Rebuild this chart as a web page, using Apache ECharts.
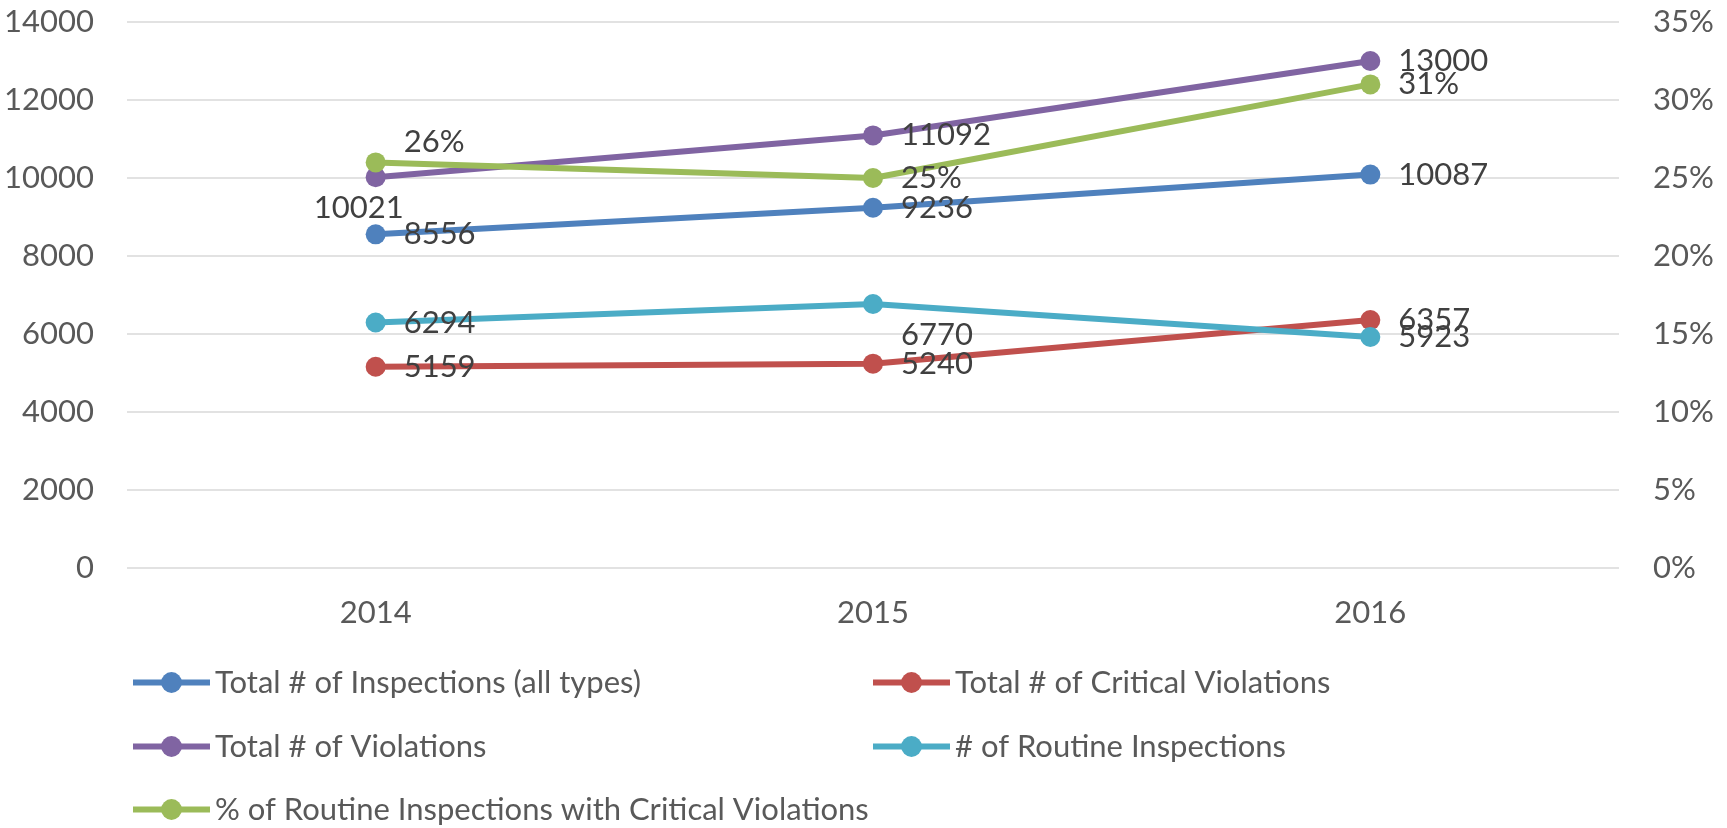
<!DOCTYPE html>
<html>
<head>
<meta charset="utf-8">
<script src="https://cdn.jsdelivr.net/npm/echarts@6/dist/echarts.min.js"></script>
<style>
  html, body { margin: 0; padding: 0; background: #fff; }
  #chart { width: 1727px; height: 828px; }
</style>
</head>
<body>
<div id="chart"></div>
<script>
// data
const years = ["2014", "2015", "2016"];
const totalInspections = [8556, 9236, 10087];
const criticalViolations = [5159, 5240, 6357];
const totalViolations = [10021, 11092, 13000];
const routineInspections = [6294, 6770, 5923];
const pctCritical = [0.26, 0.25, 0.31];

const seriesNames = [
  "Total # of Inspections (all types)",
  "Total # of Critical Violations",
  "Total # of Violations",
  "# of Routine Inspections",
  "% of Routine Inspections with Critical Violations"
];
const colors = ["#4F81BD", "#C0504D", "#8064A2", "#4BACC6", "#9BBB59"];

const FONT = "Lato";
const FS = 31;
const chart = echarts.init(document.getElementById("chart"));

// label tweaks where Excel moved labels to avoid overlaps
function withLabel(values, idx, label) {
  return values.map((v, i) => (i === idx ? { value: v, label: label } : v));
}

function lineSeries(name, color, data, yAxisIndex, fmt) {
  return {
    name: name,
    type: "line",
    yAxisIndex: yAxisIndex,
    data: data,
    symbol: "circle",
    symbolSize: 20,
    color: color,
    lineStyle: { width: 6, color: color },
    itemStyle: { color: color },
    label: {
      show: true,
      position: "right",
      distance: 18,
      color: "#404040",
      fontFamily: FONT,
      fontSize: FS,
      formatter: fmt
    },
    emphasis: { disabled: true },
    animation: false
  };
}

const pctFmt = p => Math.round(p.value * 100) + "%";

// one legend per item so they sit in two columns like the original
const legendPos = [
  { left: 130, top: 667 },
  { left: 870, top: 667 },
  { left: 130, top: 731 },
  { left: 870, top: 731 },
  { left: 130, top: 794 }
];
const legends = seriesNames.map((n, i) => ({
  data: [n],
  left: legendPos[i].left,
  top: legendPos[i].top,
  padding: 0,
  itemWidth: 77,
  itemHeight: 26,
  selectedMode: false,
  lineStyle: { width: 6 },
  textStyle: { color: "#595959", fontFamily: FONT, fontSize: FS }
}));

const option = {
  backgroundColor: "#fff",
  grid: { left: 127, right: 108, top: 22, bottom: 260, containLabel: false },
  legend: legends,
  xAxis: {
    type: "category",
    data: years,
    boundaryGap: true,
    axisLine: { show: false },
    axisTick: { show: false },
    axisLabel: { color: "#595959", fontFamily: FONT, fontSize: FS, margin: 29 }
  },
  yAxis: [
    {
      type: "value",
      min: 0,
      max: 14000,
      interval: 2000,
      axisLine: { show: false },
      axisTick: { show: false },
      splitLine: { lineStyle: { color: "#D9D9D9", width: 1.5 } },
      axisLabel: {
        color: "#595959",
        fontFamily: FONT,
        fontSize: FS,
        margin: 33,
        formatter: v => String(v)
      }
    },
    {
      type: "value",
      min: 0,
      max: 0.35,
      interval: 0.05,
      axisLine: { show: false },
      axisTick: { show: false },
      splitLine: { show: false },
      axisLabel: {
        color: "#595959",
        fontFamily: FONT,
        fontSize: FS,
        margin: 34,
        formatter: v => Math.round(v * 100) + "%"
      }
    }
  ],
  series: [
    lineSeries(seriesNames[0], colors[0], totalInspections, 0),
    lineSeries(seriesNames[1], colors[1], criticalViolations, 0),
    lineSeries(seriesNames[2], colors[2],
      withLabel(totalViolations, 0, { position: "bottom", distance: 5, offset: [-17, 0] }), 0),
    lineSeries(seriesNames[3], colors[3],
      withLabel(routineInspections, 1, { position: "right", offset: [0, 31] }), 0),
    lineSeries(seriesNames[4], colors[4],
      withLabel(pctCritical, 0, { position: "right", offset: [0, -20] }), 1, pctFmt)
  ],
  animation: false
};

chart.setOption(option);
</script>
</body>
</html>
